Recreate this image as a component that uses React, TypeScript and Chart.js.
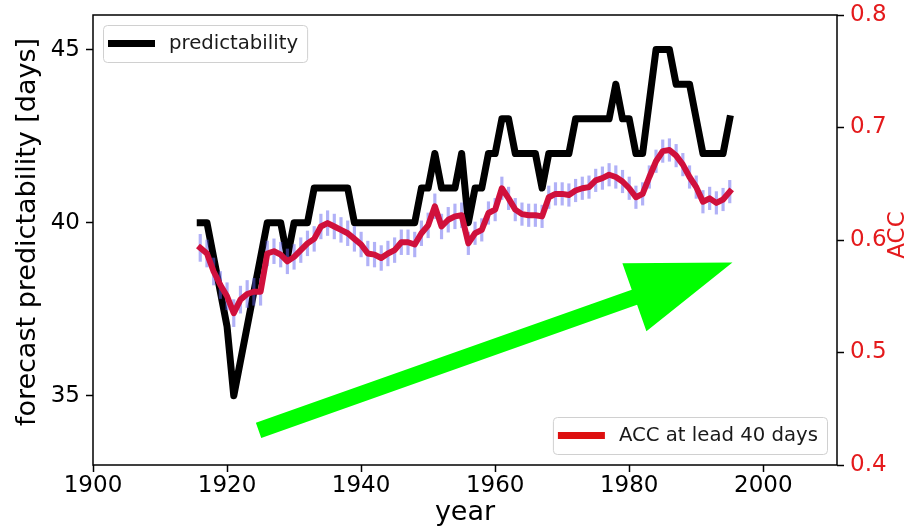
import React, { useEffect, useRef } from 'react';
import { Chart, registerables } from 'chart.js';

Chart.register(...registerables);

const years = [
  1916, 1917, 1918, 1919, 1920, 1921, 1922, 1923, 1924, 1925,
  1926, 1927, 1928, 1929, 1930, 1931, 1932, 1933, 1934, 1935,
  1936, 1937, 1938, 1939, 1940, 1941, 1942, 1943, 1944, 1945,
  1946, 1947, 1948, 1949, 1950, 1951, 1952, 1953, 1954, 1955,
  1956, 1957, 1958, 1959, 1960, 1961, 1962, 1963, 1964, 1965,
  1966, 1967, 1968, 1969, 1970, 1971, 1972, 1973, 1974, 1975,
  1976, 1977, 1978, 1979, 1980, 1981, 1982, 1983, 1984, 1985,
  1986, 1987, 1988, 1989, 1990, 1991, 1992, 1993, 1994, 1995,
];

const predictability = [
  40, 40, 39, 38, 37, 35, 36, 37, 38, 39,
  40, 40, 40, 39, 40, 40, 40, 41, 41, 41,
  41, 41, 41, 40, 40, 40, 40, 40, 40, 40,
  40, 40, 40, 41, 41, 42, 41, 41, 41, 42,
  40, 41, 41, 42, 42, 43, 43, 42, 42, 42,
  42, 41, 42, 42, 42, 42, 43, 43, 43, 43,
  43, 43, 44, 43, 43, 42, 42, 43.5, 45, 45,
  45, 44, 44, 44, 43, 42, 42, 42, 42, 43,
];

const acc = [
  0.593, 0.588, 0.572, 0.560, 0.550, 0.535, 0.547, 0.552, 0.554, 0.554,
  0.588, 0.590, 0.587, 0.581, 0.585, 0.591, 0.597, 0.601, 0.612, 0.615,
  0.612, 0.609, 0.606, 0.601, 0.596, 0.588, 0.587, 0.584, 0.588, 0.591,
  0.598, 0.598, 0.596, 0.606, 0.613, 0.630, 0.612, 0.618, 0.621, 0.622,
  0.597, 0.606, 0.609, 0.624, 0.627, 0.646, 0.637, 0.627, 0.623, 0.622,
  0.622, 0.621, 0.638, 0.641, 0.641, 0.640, 0.644, 0.646, 0.647, 0.653,
  0.655, 0.658, 0.656, 0.652, 0.646, 0.638, 0.641, 0.656, 0.670, 0.679,
  0.680, 0.675, 0.667, 0.656, 0.647, 0.634, 0.637, 0.633, 0.636, 0.643,
];

const accErr = [
  0.012, 0.012, 0.012, 0.012, 0.012, 0.012, 0.012, 0.012, 0.012, 0.012,
  0.011, 0.011, 0.011, 0.011, 0.011, 0.011, 0.011, 0.011, 0.011, 0.011,
  0.011, 0.011, 0.011, 0.011, 0.011, 0.011, 0.011, 0.011, 0.011, 0.011,
  0.011, 0.011, 0.011, 0.011, 0.011, 0.011, 0.011, 0.011, 0.011, 0.011,
  0.010, 0.010, 0.010, 0.010, 0.010, 0.010, 0.010, 0.010, 0.010, 0.010,
  0.010, 0.010, 0.010, 0.010, 0.010, 0.010, 0.010, 0.010, 0.010, 0.010,
  0.010, 0.010, 0.010, 0.010, 0.010, 0.010, 0.010, 0.010, 0.010, 0.010,
  0.010, 0.010, 0.010, 0.010, 0.010, 0.010, 0.010, 0.010, 0.010, 0.010,
];

const xTicks = [1900, 1920, 1940, 1960, 1980, 2000];
const leftTicks = [35, 40, 45];
const rightTicks = [0.4, 0.5, 0.6, 0.7, 0.8];

// green trend arrow, in (year, forecast days) coordinates
const arrowTail = [1924.7, 34.0];
const arrowTip = [1995.4, 38.85];

const FONT = "'DejaVu Sans', 'Liberation Sans', sans-serif";
const RED = '#e41a1c';

function drawLegend(
  ctx: CanvasRenderingContext2D,
  left: number,
  top: number,
  label: string,
  color: string,
  anchorRight: boolean
) {
  ctx.save();
  ctx.font = `19.7px ${FONT}`;
  const tw = ctx.measureText(label).width;
  const w = 66 + tw + 9;
  const h = 37;
  const x = anchorRight ? left - w : left;
  const y = top;
  ctx.beginPath();
  (ctx as any).roundRect(x + 0.5, y + 0.5, w, h, 4);
  ctx.fillStyle = 'rgba(255,255,255,0.85)';
  ctx.fill();
  ctx.strokeStyle = '#d0d0d0';
  ctx.lineWidth = 1;
  ctx.stroke();
  const cy = y + h / 2;
  ctx.beginPath();
  ctx.moveTo(x + 5, cy);
  ctx.lineTo(x + 52, cy);
  ctx.strokeStyle = color;
  ctx.lineWidth = 7;
  ctx.lineCap = 'butt';
  ctx.stroke();
  ctx.fillStyle = '#1a1a1a';
  ctx.textBaseline = 'middle';
  ctx.textAlign = 'left';
  ctx.fillText(label, x + 66, cy);
  ctx.restore();
}

const decorPlugin = {
  id: 'decor',
  afterDatasetsDraw(chart: any) {
    const { ctx, chartArea: a, scales } = chart;
    ctx.save();

    // arrow
    const tx = scales.x.getPixelForValue(arrowTail[0]);
    const ty = scales.y.getPixelForValue(arrowTail[1]);
    const hx = scales.x.getPixelForValue(arrowTip[0]);
    const hy = scales.y.getPixelForValue(arrowTip[1]);
    const dx = hx - tx;
    const dy = hy - ty;
    const len = Math.hypot(dx, dy);
    const ux = dx / len;
    const uy = dy / len;
    const nx = -uy;
    const ny = ux;
    const headLen = 104;
    const headHalf = 36;
    const shaftHalf = 8;
    const bx = hx - ux * headLen;
    const by = hy - uy * headLen;
    ctx.beginPath();
    ctx.moveTo(tx + nx * shaftHalf, ty + ny * shaftHalf);
    ctx.lineTo(bx + nx * shaftHalf, by + ny * shaftHalf);
    ctx.lineTo(bx + nx * headHalf, by + ny * headHalf);
    ctx.lineTo(hx, hy);
    ctx.lineTo(bx - nx * headHalf, by - ny * headHalf);
    ctx.lineTo(bx - nx * shaftHalf, by - ny * shaftHalf);
    ctx.lineTo(tx - nx * shaftHalf, ty - ny * shaftHalf);
    ctx.closePath();
    ctx.fillStyle = '#00ff00';
    ctx.fill();

    // frame
    ctx.strokeStyle = '#000';
    ctx.lineWidth = 1.5;
    ctx.strokeRect(a.left, a.top, a.right - a.left, a.bottom - a.top);

    // legends
    drawLegend(ctx, a.left + 10, a.top + 10, 'predictability', '#000', false);
    drawLegend(ctx, a.right - 10, a.bottom - 10 - 38, 'ACC at lead 40 days', '#dd1010', true);

    // axis titles
    ctx.fillStyle = '#000';
    ctx.font = `27px ${FONT}`;
    ctx.textAlign = 'center';
    ctx.textBaseline = 'middle';
    ctx.save();
    ctx.translate(28, (a.top + a.bottom) / 2 - 8);
    ctx.rotate(-Math.PI / 2);
    ctx.fillText('forecast predictability [days]', 0, 0);
    ctx.restore();

    ctx.fillStyle = RED;
    ctx.font = `23px ${FONT}`;
    ctx.save();
    ctx.translate(898, (a.top + a.bottom) / 2 - 5);
    ctx.rotate(-Math.PI / 2);
    ctx.fillText('ACC', 0, 0);
    ctx.restore();

    ctx.restore();
  },
};

export default function App() {
  const ref = useRef<HTMLCanvasElement>(null);

  useEffect(() => {
    const canvas = ref.current!;
    const blackData = years.map((yr, i) => ({ x: yr, y: predictability[i] }));
    const redData = years.map((yr, i) => ({ x: yr, y: acc[i] }));
    const errData = years.map((yr, i) => ({ x: yr, y: [acc[i] - accErr[i], acc[i] + accErr[i]] }));

    const tickGrid = () => ({
      display: true,
      offset: false,
      drawOnChartArea: false,
      drawTicks: true,
      tickLength: 7,
      tickColor: '#000',
      tickWidth: 1.5,
    });

    const chart = new Chart(canvas, {
      type: 'line',
      data: {
        datasets: [
          {
            type: 'line',
            label: 'predictability',
            data: blackData,
            yAxisID: 'y',
            borderColor: '#000',
            borderWidth: 7,
            borderJoinStyle: 'round',
            borderCapStyle: 'square',
            pointRadius: 0,
            tension: 0,
            fill: false,
            order: 3,
          },
          {
            type: 'bar',
            label: 'err',
            data: errData as any,
            yAxisID: 'y1',
            backgroundColor: 'rgba(100,100,240,0.5)',
            borderWidth: 0,
            barThickness: 2.5,
            order: 2,
          } as any,
          {
            type: 'line',
            label: 'ACC at lead 40 days',
            data: redData,
            yAxisID: 'y1',
            borderColor: '#d0103c',
            borderWidth: 6,
            borderJoinStyle: 'round',
            borderCapStyle: 'square',
            pointRadius: 0,
            tension: 0,
            fill: false,
            order: 1,
          },
        ],
      },
      options: {
        animation: false,
        responsive: false,
        devicePixelRatio: 1,
        events: [],
        layout: { padding: { top: 15, left: 0, right: 0, bottom: 0 } },
        plugins: {
          legend: { display: false },
          tooltip: { enabled: false },
        },
        font: { family: FONT },
        scales: {
          x: {
            type: 'linear',
            position: 'bottom',
            min: 1900,
            max: 2011,
            offset: false,
            afterBuildTicks: (s: any) => {
              s.ticks = xTicks.map((v) => ({ value: v }));
            },
            afterFit: (s: any) => {
              s.height = 64;
              s.paddingLeft = 0;
              s.paddingRight = 0;
            },
            ticks: {
              callback: (v: any) => String(v),
              font: { family: FONT, size: 23 },
              color: '#000',
              padding: 0,
              maxRotation: 0,
              autoSkip: false,
            },
            grid: tickGrid() as any,
            border: { display: false },
            title: {
              display: true,
              text: 'year',
              font: { family: FONT, size: 27 },
              color: '#000',
              padding: { top: 0, bottom: 0 },
            },
          },
          y: {
            type: 'linear',
            position: 'left',
            min: 33,
            max: 46,
            afterBuildTicks: (s: any) => {
              s.ticks = leftTicks.map((v) => ({ value: v }));
            },
            afterFit: (s: any) => {
              s.width = 93;
              s.paddingTop = 0;
              s.paddingBottom = 0;
            },
            ticks: {
              callback: (v: any) => String(v),
              font: { family: FONT, size: 23 },
              color: '#000',
              padding: 6,
            },
            grid: tickGrid() as any,
            border: { display: false },
          },
          y1: {
            type: 'linear',
            position: 'right',
            min: 0.4,
            max: 0.8,
            afterBuildTicks: (s: any) => {
              s.ticks = rightTicks.map((v) => ({ value: v }));
            },
            afterFit: (s: any) => {
              s.width = 83;
              s.paddingTop = 0;
              s.paddingBottom = 0;
            },
            ticks: {
              callback: (v: any) => Number(v).toFixed(1),
              font: { family: FONT, size: 23 },
              color: RED,
              padding: 6,
            },
            grid: tickGrid() as any,
            border: { display: false },
          },
        },
      } as any,
      plugins: [decorPlugin],
    });

    return () => chart.destroy();
  }, []);

  return (
    <div style={{ position: 'absolute', left: 0, top: 0, width: 920, height: 529, background: '#fff' }}>
      <canvas ref={ref} width={920} height={529} style={{ display: 'block', width: 920, height: 529 }} />
    </div>
  );
}
